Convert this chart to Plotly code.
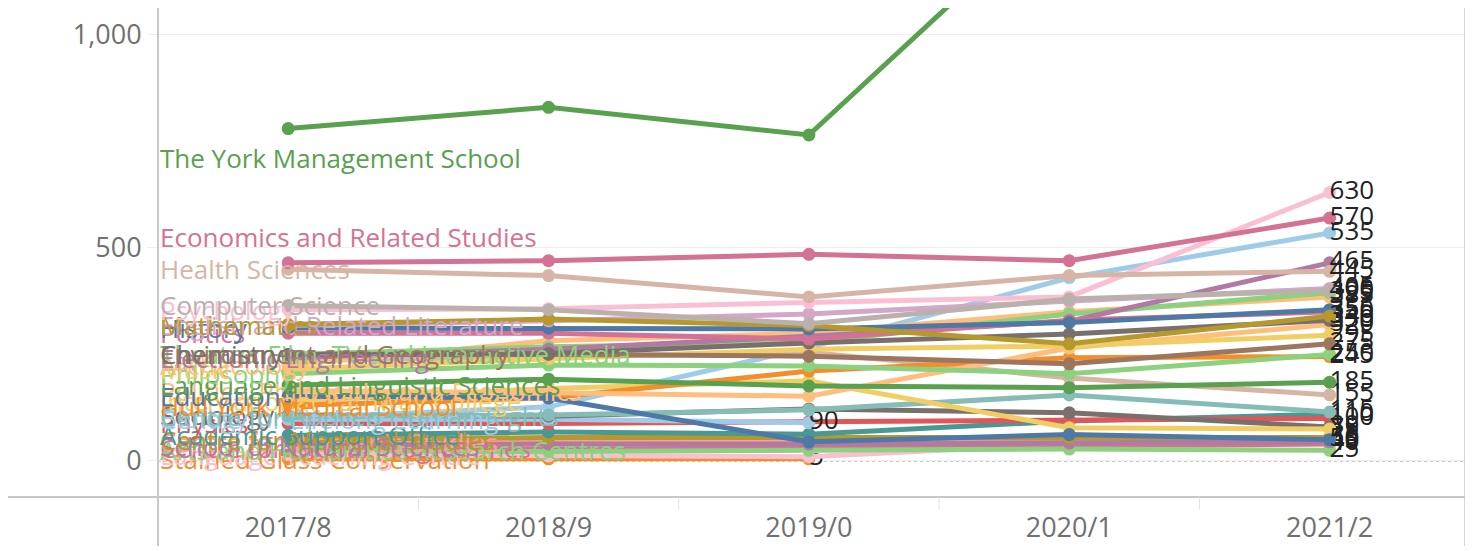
import plotly.graph_objects as go

years = ["2017/8", "2018/9", "2019/0", "2020/1", "2021/2"]

york_mgmt = [780, 830, 765, 1330, 1420]
economics = [465, 470, 485, 470, 570]
health = [450, 435, 385, 435, 445]
computer = [365, 355, 322, 380, 400]
psychology = [355, 357, 372, 385, 630]
mathematics = [320, 333, 318, 275, 340]
english = [318, 329, 345, 375, 405]
history = [312, 312, 310, 325, 355]
politics = [300, 300, 286, 330, 350]
chemistry = [250, 252, 277, 298, 330]
env_geog = [250, 250, 246, 228, 275]
engineering = [242, 262, 293, 328, 465]
theatre = [250, 268, 278, 345, 395]
archaeology = [225, 282, 300, 350, 385]
music = [215, 240, 262, 270, 295]
philosophy = [205, 225, 223, 205, 250]
language = [178, 192, 176, 172, 185]
education = [152, 148, 45, 62, 50]
ppe = [165, 160, 152, 265, 320]
hyms = [130, 148, 211, 242, 245]
pathway = [140, 170, 188, 78, 75]
human_rights = [105, 108, 120, 155, 115]
law = [235, 245, 255, 195, 155]
biology = [100, 127, 266, 430, 535]
sociology = [108, 105, 122, 113, 80]
lifelong = [98, 98, 90, None, None]
physics = [88, 88, 92, 95, 100]
academic = [60, 68, 63, 94, 110]
medieval = [50, 55, 55, 55, 55]
natural = [35, 40, 40, 42, 45]
womens = [45, 45, 48, 50, 50]
arts_hum = [25, 22, 25, 28, 25]
global_prog = [30, 28, 30, 35, 40]
stained_glass = [5, 5, 5, None, None]
lang_teaching = [15, 12, 10, 40, 45]

series = [
    ("Stained Glass Conservation", stained_glass, "#f28e2b", 0),
    ("Language Teaching Centre", lang_teaching, "#fabfd2", 0),
    ("Centre for Global Programmes", global_prog, "#d37295", 0),
    ("Arts and Humanities Research Centres", arts_hum, "#8cd17d", 0),
    ("Centre for Women's Studies", womens, "#ff9d9a", 0),
    ("School of Natural Sciences", natural, "#b07aa1", 0),
    ("Centre for Medieval Studies", medieval, "#b6992d", 0),
    ("Academic Support Office", academic, "#499894", 0),
    ("Physics", physics, "#e15759", 0),
    ("Centre for Lifelong Learning", lifelong, "#a0cbe8", 0),
    ("Sociology", sociology, "#79706e", 0),
    ("Biology", biology, "#a0cbe8", 0),
    ("Law", law, "#d7b5a6", 0),
    ("Centre for Applied Human Rights", human_rights, "#86bcb6", 0),
    ("International Pathway College", pathway, "#f1ce63", 0),
    ("Hull York Medical School", hyms, "#f28e2b", 0),
    ("Politics, Philosophy and Economics", ppe, "#ffbe7d", 0),
    ("Education", education, "#4e79a7", 0),
    ("Language and Linguistic Sciences", language, "#59a14f", 0),
    ("Philosophy", philosophy, "#8cd17d", 0),
    ("Music", music, "#f1ce63", 0),
    ("Archaeology", archaeology, "#ffbe7d", 0),
    ("Theatre, Film, TV and Interactive Media", theatre, "#8cd17d", 0),
    ("Electronic Engineering", engineering, "#b07aa1", 0),
    ("Environment and Geography", env_geog, "#9d7660", 0),
    ("Chemistry", chemistry, "#79706e", 0),
    ("Politics", politics, "#d37295", 0),
    ("History", history, "#4e79a7", 0),
    ("English and Related Literature", english, "#d4a6c8", 0),
    ("Mathematics", mathematics, "#b6992d", 0),
    ("Psychology", psychology, "#fabfd2", 0),
    ("Computer Science", computer, "#bab0ac", 0),
    ("Health Sciences", health, "#d7b5a6", 0),
    ("Economics and Related Studies", economics, "#d37295", 60),
    ("The York Management School", york_mgmt, "#59a14f", -70),
]

FONT = "Open Sans"
xs = list(range(len(years)))

fig = go.Figure()
annotations = []
for name, vals, color, off in series:
    fig.add_trace(go.Scatter(
        x=xs, y=vals, mode="lines+markers", name=name,
        line=dict(color=color, width=5),
        marker=dict(size=13, color=color),
        connectgaps=False, showlegend=False, hoverinfo="skip",
    ))
    last = max(i for i, v in enumerate(vals) if v is not None)
    fig.add_trace(go.Scatter(
        x=[xs[last]], y=[vals[last]], mode="text", text=[f"{vals[last]:,}"],
        textposition="middle right",
        textfont=dict(family=FONT, size=26, color="#222"),
        showlegend=False, hoverinfo="skip", cliponaxis=True,
    ))
    annotations.append(dict(
        x=-0.5, y=vals[0] + off, xref="x", yref="y", xanchor="left",
        yanchor="middle", xshift=0, text=name, showarrow=False,
        font=dict(family=FONT, size=26, color=color),
    ))

shapes = [
    dict(type="line", xref="x", yref="y", x0=-0.5, x1=4.52, y0=0, y1=0,
         line=dict(color="#bbbbbb", width=1.5, dash="dot"), layer="below"),
    dict(type="line", xref="paper", yref="paper", x0=0, x1=0, y0=-0.1, y1=1,
         line=dict(color="#c8c8c8", width=2)),
    dict(type="line", xref="paper", yref="paper", x0=1, x1=1, y0=-0.1, y1=1,
         line=dict(color="#c8c8c8", width=1.5)),
    dict(type="line", xref="paper", yref="paper", x0=-0.115, x1=1, y0=0, y1=0,
         line=dict(color="#c8c8c8", width=2)),
]
for b in [0.5, 1.5, 2.5, 3.5]:
    shapes.append(dict(type="line", xref="x", yref="paper", x0=b, x1=b,
                       y0=0, y1=-0.025, line=dict(color="#e0e0e0", width=1)))

fig.update_layout(
    width=1465, height=543,
    margin=dict(l=150, r=8, t=0, b=54),
    paper_bgcolor="white", plot_bgcolor="white",
    annotations=annotations, shapes=shapes,
    xaxis=dict(range=[-0.5, 4.52], tickvals=xs, ticktext=years,
               showgrid=False, zeroline=False, showline=False,
               ticks="", ticklabelstandoff=12,
               tickfont=dict(family=FONT, size=27, color="#707070")),
    yaxis=dict(range=[-84.5, 1063], tickvals=[0, 500, 1000],
               tickformat=",", showgrid=True, gridcolor="#eeeeee",
               gridwidth=1, zeroline=False, showline=False,
               ticks="outside", ticklen=10, tickcolor="#eeeeee",
               tickfont=dict(family=FONT, size=27, color="#707070")),
)

fig.write_html("out.html")
